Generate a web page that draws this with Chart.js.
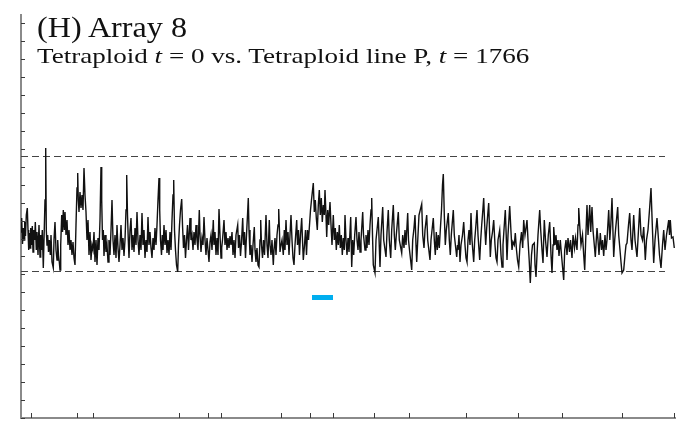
<!DOCTYPE html>
<html>
<head>
<meta charset="utf-8">
<script src="https://cdn.jsdelivr.net/npm/chart.js@4"></script>
<style>
  html, body { margin: 0; padding: 0; background: #fff; }
  #wrap { position: relative; width: 687px; height: 423px; overflow: hidden; }
  canvas { position: absolute; left: 0; top: 0; }
  .txt { position: absolute; font-family: "Liberation Serif", "Times New Roman", serif; color: #111; white-space: nowrap; line-height: 1; transform-origin: 0 0; }
  #title { left: 37px; top: 13px; font-size: 29.5px; transform: scaleX(1.09); }
  #sub { left: 37px; top: 45px; font-size: 22px; transform: scaleX(1.23); }
</style>
</head>
<body>
<div id="wrap">
  <canvas id="c" width="687" height="423"></canvas>
  <div class="txt" id="title">(H) Array 8</div>
  <div class="txt" id="sub">Tetraploid <i>t</i> = 0 vs. Tetraploid line P, <i>t</i> = 1766</div>
</div>
<script>
// ---- data (position along genome, arbitrary units; log ratio) ----
const positions = [
0,0.7,1.5,2.3,3,3.7,4.5,5.3,6.3,7,7.7,8.3,9,9.7,10.5,11.3,12,12.7,13.7,14.3,15.3,16,17,18,19,19.7,20.5,21.3,22.3,23,24,24.7,25.3,26,26.7,27.5,28.3,29.3,30,31,32.3,33,34,35,36,36.7,37.5,38.3,39,39.7,40.7,41.5,42.3,43.3,44,45,46,47,48,49,50,51,52,53,54,55,56,56.7,57.3,58,59,60,61,62,63,64,65,66,67,68,69,70,71,72,73,74,75,76,77,78,79,80,80.7,81.5,82.3,83,84,85,86,87,88,89,90,91,92,93,94,95,96,97,98,99,100,101,102,103,104,105,105.7,106.5,107.3,108,109,110,111,112,113,114,115,116,117,118,119,120,121,122,123,124,125,126,127,128,129,130,131,132,133,134,135,136,137,138,138.7,139.5,140.5,141.3,142,143,144,145,146,147,148,149,150,151,152,152.7,153.5,154.5,155.5,156.7,157.5,158.5,159.5,160.7,161.5,162.5,163.5,164.5,165.5,166.5,167.5,169,170,171,172,173,174,175,176,177,178.3,179,180,181,182,183,184,185,186,187,188,189,190,191,192.3,193,194,195,196,197,198,199,200,200.7,201.5,203,204,205,206,207,208,209,
210,211,212,213,214,215,216.7,217.5,218.5,219.5,220.5,221.7,222.5,223.5,224.5,225.5,226.5,227.3,228,229,230,231,232,233.3,234,235,236,237,238,239,239.7,240.5,241.5,242.5,243.5,245,246,247,248.3,249,250,251,252.3,253,254,255,256,257,257.7,258.5,259,260,261,262.3,263.3,264,265,266,267,268,269,270,271,272,273,274,275.7,276.5,277.5,278.5,279.5,280.7,281.5,282.3,283.5,284.5,285.5,286.5,287.5,288.5,289.5,290.5,292.3,293.3,294.3,295.3,296.3,297.3,298.3,299.3,300.3,301.3,302.3,303.3,304,305,305.7,306.7,307.7,308.5,309,310,311,312.3,313.3,314.3,315.3,316.3,317.3,318.3,319.3,320.3,321.3,322.3,323.3,324,325,326,327,328,329.7,330.7,331.7,332.7,333.7,335,336,337,338,339,340,341.7,342.5,344,345,346,347,348,349,350,350.7,351.5,352.3,354,355,357.3,359,360,361.7,362.7,365,366,367.3,368.3,369.7,370.7,372.3,373.3,374.3,375.3,377.3,378.3,380.7,381.7,383,384,385,386.7,387.5,388.5,390.7,391.7,393,394,395,395.7,397,398,400.7,401.7,403,404,405.7,406.7,409,410,412.3,413.3,414.3,415.3,416.3,417.3,418.3,419.3,420.5,421.5,422.3,423.3,424.3,425.3,427.3,428.3,429.3,430.3,432.3,433.3,435.7,436.5,
437,438,439,440,441.5,442.7,444,445,446,447,448,449,450,451,452.7,453.7,454.7,456,457,458.7,459.7,460.7,461.7,462.7,463.7,464.7,465.7,466.7,467.7,468.5,469.3,470.3,471.5,472.7,474,475,476,477,478.7,480,481,482,483.3,484.3,485.2,486,487,488.7,490,491,492,493.3,494.3,495.5,496.5,497.7,499,500.5,501.7,502.7,504,505,506,507,508.3,509.3,510.5,511.5,513.3,514,515,516,517,518.7,519.7,521,522,523.3,524.5,526,527.3,528.7,530,531,532,532.7,534,535,536,537,538,539.3,540.5,542.7,543.7,545,546,547,548.5,549.5,551,552,553.5,554.5,556,557,557.7,559,560,561.5,562.7,563.7,564.7,566,567,568.7,569.7,571,572,573.3,574.3,576,577,578,579.3,580.5,581.5,582.7,584,585,586,587.7,588.8,589.8,591,592.7,593.7,594.7,596.7,597.7,599,600,601,602.7,604,605,606,607.5,608.7,610,611,612.7,614,616,617.5,618.7,620,621.5,622.7,624.3,625.5,627,628.5,630,631.3,632.7,634,636,637.5,638.5,640,641.5,642.7,644,645.5,647.7,648.5,649.3,650.5,652,653.3
];
const logRatio = [
-0.18,-0.04,-0.30,-0.14,-0.26,-0.08,-0.22,-0.01,0.06,-0.16,-0.36,-0.19,-0.34,-0.14,-0.31,-0.12,-0.38,-0.16,-0.26,-0.08,-0.36,-0.18,-0.41,-0.11,-0.43,-0.21,-0.36,-0.16,-0.54,-0.26,0.14,0.66,-0.16,-0.31,-0.21,-0.38,-0.26,-0.41,-0.21,-0.48,-0.54,-0.26,-0.08,-0.36,-0.46,-0.26,-0.41,-0.48,-0.56,-0.31,-0.01,-0.18,0.04,-0.16,0.02,-0.21,-0.06,-0.31,-0.16,-0.36,-0.26,-0.41,-0.28,-0.44,-0.51,-0.11,0.26,0.41,0.14,0.02,0.22,0.06,0.19,0.04,0.46,0.19,0.02,-0.26,-0.06,-0.41,-0.18,-0.46,-0.31,-0.36,-0.18,-0.48,-0.26,-0.51,-0.24,-0.36,-0.06,0.47,0.14,-0.26,-0.16,-0.42,-0.21,-0.38,-0.31,-0.48,-0.26,-0.41,-0.16,0.14,-0.26,-0.41,-0.21,-0.44,-0.11,-0.34,-0.48,-0.31,-0.11,-0.36,-0.24,-0.42,-0.26,0.04,0.39,-0.01,-0.26,-0.44,-0.16,-0.04,-0.36,-0.21,-0.38,-0.14,-0.31,0.02,-0.26,-0.41,-0.21,-0.36,0.01,-0.31,-0.16,-0.44,-0.26,-0.38,-0.03,-0.31,-0.18,-0.34,-0.44,-0.24,-0.36,-0.14,-0.31,-0.11,0.14,0.36,0.04,-0.26,-0.41,-0.21,-0.36,-0.11,-0.31,-0.16,-0.39,-0.26,-0.41,-0.18,-0.36,-0.06,0.19,0.34,-0.16,-0.36,-0.51,-0.58,-0.31,-0.11,0.04,0.15,-0.11,-0.34,-0.21,-0.44,-0.26,-0.11,-0.36,-0.04,-0.26,-0.21,-0.36,-0.18,-0.31,-0.11,-0.26,-0.36,0.04,-0.21,-0.38,-0.24,-0.31,-0.03,-0.26,-0.41,-0.24,-0.36,-0.48,-0.28,-0.21,-0.36,-0.06,-0.31,-0.18,-0.41,-0.24,-0.41,0.05,-0.21,-0.44,-0.34,-0.26,-0.06,-0.31,-0.18,-0.36,-0.24,-0.34,-0.22,
-0.31,-0.18,-0.41,-0.26,-0.44,-0.21,-0.11,-0.34,-0.21,-0.42,-0.28,-0.04,-0.31,-0.18,-0.44,-0.21,-0.01,0.16,-0.16,-0.41,-0.31,-0.48,-0.31,-0.13,-0.36,-0.48,-0.34,-0.51,-0.53,-0.26,-0.06,-0.31,-0.44,-0.26,-0.41,-0.01,-0.31,-0.44,-0.06,-0.31,-0.41,-0.26,-0.51,-0.36,-0.24,-0.41,-0.21,-0.11,0.05,-0.18,-0.38,-0.31,-0.26,-0.41,-0.16,-0.36,-0.06,-0.31,-0.18,-0.41,-0.21,-0.01,-0.26,-0.44,-0.51,-0.31,-0.06,-0.31,-0.16,-0.41,-0.21,-0.04,-0.26,-0.46,-0.31,-0.16,-0.41,-0.16,-0.26,-0.11,0.04,0.14,0.31,0.02,0.14,-0.04,-0.16,0.09,0.24,-0.01,0.16,-0.08,0.09,-0.01,0.24,-0.01,-0.23,0.04,-0.11,0.04,0.12,-0.11,-0.31,-0.01,-0.26,-0.14,-0.36,-0.18,-0.31,-0.11,-0.34,-0.21,-0.41,-0.24,-0.36,-0.01,-0.26,-0.41,-0.24,-0.38,-0.03,-0.53,-0.26,-0.41,-0.21,-0.03,-0.26,-0.36,-0.18,-0.38,-0.26,0.02,-0.21,-0.36,-0.21,-0.34,-0.16,-0.31,-0.11,0.04,0.16,-0.21,-0.51,-0.59,-0.26,-0.03,-0.53,-0.21,0.07,-0.26,-0.43,-0.18,0.04,-0.26,-0.44,-0.16,0.09,-0.21,-0.36,-0.21,0.02,-0.26,-0.39,-0.21,-0.34,-0.16,-0.31,0.01,-0.26,-0.36,-0.56,-0.26,-0.14,-0.01,-0.31,-0.48,-0.21,-0.01,0.10,-0.21,-0.34,-0.16,-0.01,-0.26,-0.46,-0.26,-0.04,-0.26,-0.41,-0.18,-0.36,-0.21,-0.34,-0.16,0.04,0.29,0.40,-0.01,-0.31,-0.16,0.01,-0.26,-0.41,-0.21,0.04,-0.21,-0.43,-0.31,
-0.36,-0.21,-0.48,-0.31,-0.21,-0.08,-0.31,-0.44,-0.48,-0.26,-0.16,-0.31,0.01,-0.26,-0.48,-0.26,-0.14,0.04,-0.21,-0.46,-0.26,-0.11,0.02,0.16,-0.11,-0.31,-0.14,-0.01,0.11,-0.16,-0.43,-0.26,-0.18,-0.06,-0.31,-0.44,-0.48,-0.26,-0.16,-0.41,-0.53,-0.31,-0.11,0.04,-0.21,-0.46,-0.21,0.08,-0.18,-0.36,-0.28,-0.31,-0.19,-0.36,-0.46,-0.53,-0.31,-0.18,-0.34,-0.06,-0.21,-0.14,-0.06,-0.26,-0.48,-0.69,-0.41,-0.31,-0.29,-0.51,-0.63,-0.41,-0.21,0.04,-0.16,-0.36,-0.49,-0.06,-0.26,-0.43,-0.21,-0.08,-0.41,-0.59,-0.31,-0.13,-0.31,-0.21,-0.36,-0.26,-0.42,-0.26,-0.41,-0.66,-0.36,-0.26,-0.41,-0.24,-0.38,-0.26,-0.44,-0.21,-0.34,-0.24,-0.36,-0.11,0.06,-0.16,-0.31,-0.21,-0.41,-0.56,-0.26,0.09,-0.21,0.09,-0.18,0.07,-0.16,-0.31,-0.43,-0.14,-0.26,-0.41,-0.19,-0.36,-0.26,-0.42,-0.21,-0.36,-0.26,0.04,-0.26,-0.11,0.16,-0.43,-0.26,-0.14,0.07,-0.21,-0.36,-0.48,-0.59,-0.56,-0.41,-0.31,-0.29,-0.11,0.01,-0.26,-0.36,-0.01,-0.26,-0.43,-0.16,0.06,-0.21,-0.26,-0.13,-0.46,-0.26,-0.16,0.04,0.26,-0.11,-0.49,-0.26,-0.04,-0.26,-0.41,-0.54,-0.31,-0.16,-0.36,-0.21,-0.06,-0.21,-0.06,-0.24,-0.23,-0.34
];
const thresholds = [0.575, -0.575];
const thresholdSpan = [0, 644];
const segmentSpan = [291, 312];
const segmentValue = -0.835;
const xTickValues = [10,56,72,158,187,200,260,289,312,353,388,445,497,541,601,653];
const yMin = -2.04, yMax = 1.99, yStep = 0.1795;
const xMin = 0, xMax = 654;

const n = Math.min(positions.length, logRatio.length);
const lineData = [];
for (let i = 0; i < n; i++) lineData.push({x: positions[i], y: logRatio[i]});

const yTickValues = [];
for (let v = yMin; v <= yMax + 1e-9; v += yStep) yTickValues.push(v);

const innerTicks = {
  id: 'innerTicks',
  afterDatasetsDraw(chart) {
    const ctx = chart.ctx, x = chart.scales.x, y = chart.scales.y;
    const ca = chart.chartArea;
    ctx.save();
    ctx.strokeStyle = '#3a3a3a';
    ctx.lineWidth = 1;
    ctx.beginPath();
    xTickValues.forEach(v => {
      const px = Math.round(x.getPixelForValue(v)) + 0.5;
      ctx.moveTo(px, ca.bottom);
      ctx.lineTo(px, ca.bottom - 5);
    });
    yTickValues.forEach(v => {
      const py = Math.round(y.getPixelForValue(v)) + 0.5;
      ctx.moveTo(ca.left, py);
      ctx.lineTo(ca.left + 4, py);
    });
    ctx.stroke();
    ctx.restore();
  }
};

new Chart(document.getElementById('c'), {
  type: 'line',
  data: {
    datasets: [
      { data: lineData, borderColor: '#111', borderWidth: 1.4, pointRadius: 0, tension: 0, order: 1 },
      { data: [{x: thresholdSpan[0], y: thresholds[0]}, {x: thresholdSpan[1], y: thresholds[0]}], borderColor: '#444', borderWidth: 1.2, borderDash: [7, 4], pointRadius: 0, order: 2 },
      { data: [{x: thresholdSpan[0], y: thresholds[1]}, {x: thresholdSpan[1], y: thresholds[1]}], borderColor: '#444', borderWidth: 1.2, borderDash: [7, 4], pointRadius: 0, order: 2 },
      { data: [{x: segmentSpan[0], y: segmentValue}, {x: segmentSpan[1], y: segmentValue}], borderColor: '#00AEEF', borderWidth: 5, borderCapStyle: 'butt', pointRadius: 0, order: 0 }
    ]
  },
  options: {
    responsive: false,
    animation: false,
    layout: { padding: { left: 21, right: 12, top: 15, bottom: 5 } },
    plugins: { legend: { display: false }, tooltip: { enabled: false }, title: { display: false } },
    scales: {
      x: {
        type: 'linear', min: xMin, max: xMax,
        grid: { display: false, drawTicks: false },
        ticks: { display: false },
        border: { display: true, color: '#8a8a8a', width: 2 },
        afterFit(s) { s.height = 0; }
      },
      y: {
        type: 'linear', min: yMin, max: yMax,
        grid: { display: false, drawTicks: false },
        ticks: { display: false },
        border: { display: true, color: '#8a8a8a', width: 2 },
        afterFit(s) { s.width = 0; }
      }
    }
  },
  plugins: [innerTicks]
});
</script>
</body>
</html>
